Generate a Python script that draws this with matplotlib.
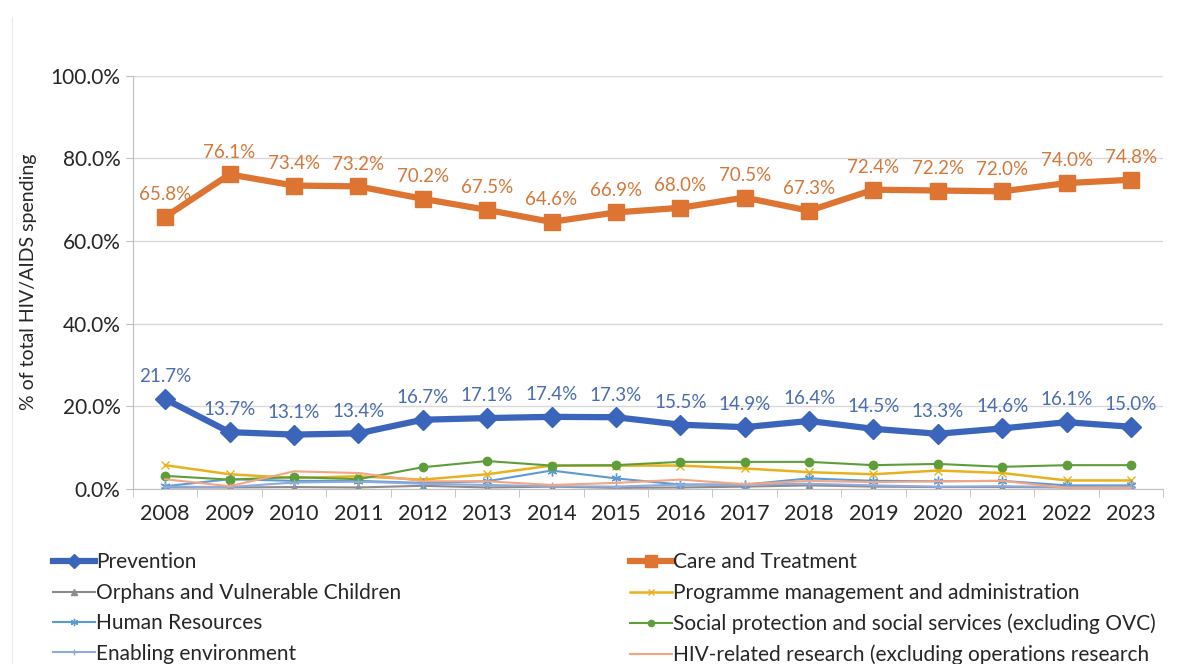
import numpy as np
import matplotlib
matplotlib.use('Agg')
import matplotlib.pyplot as plt
from matplotlib.lines import Line2D
from matplotlib.ticker import FuncFormatter

plt.rcParams['font.family'] = ['Lato', 'DejaVu Sans']

years = [str(y) for y in range(2008, 2024)]

prevention = [21.7, 13.7, 13.1, 13.4, 16.7, 17.1, 17.4, 17.3, 15.5, 14.9, 16.4, 14.5, 13.3, 14.6, 16.1, 15.0]
care = [65.8, 76.1, 73.4, 73.2, 70.2, 67.5, 64.6, 66.9, 68.0, 70.5, 67.3, 72.4, 72.2, 72.0, 74.0, 74.8]
orphans = [0.3, 0.3, 0.4, 0.3, 0.7, 0.3, 0.5, 0.2, 0.3, 0.5, 0.8, 0.5, 0.4, 0.4, 0.3, 0.3]
programme = [5.7, 3.5, 2.6, 3.0, 2.2, 3.5, 5.6, 5.6, 5.6, 4.9, 4.0, 3.5, 4.4, 3.8, 2.0, 2.0]
human_res = [0.6, 2.3, 1.9, 1.9, 1.4, 1.8, 4.4, 2.5, 1.0, 1.0, 2.5, 1.9, 1.8, 1.9, 0.8, 0.8]
social = [3.1, 2.2, 2.8, 2.3, 5.2, 6.7, 5.6, 5.7, 6.5, 6.5, 6.5, 5.7, 6.0, 5.3, 5.7, 5.7]
enabling = [0.5, 0.4, 1.5, 1.7, 1.2, 0.9, 0.6, 0.5, 1.0, 1.0, 1.2, 0.8, 0.5, 0.6, 0.4, 0.5]
research = [2.3, 0.6, 4.2, 3.8, 1.8, 1.8, 0.9, 1.4, 2.2, 1.1, 1.9, 1.6, 1.8, 1.9, 0.2, 0.2]

x = np.arange(len(years))

fig = plt.figure(figsize=(11.87, 6.64), dpi=100)
ax = fig.add_axes([0.112, 0.264, 0.868, 0.622])

# faint frame edge on the left of the picture
fig.add_artist(Line2D([0.010, 0.010], [0.0, 0.975], color='#ececec', lw=1.0))

h_orph, = ax.plot(x, orphans, color='#8c8c8c', lw=1.5, marker='^', ms=5, label='Orphans and Vulnerable Children')
h_prog, = ax.plot(x, programme, color='#e8b21e', lw=1.8, marker='x', ms=6, label='Programme management and administration')
h_hr, = ax.plot(x, human_res, color='#5b9bd5', lw=1.5, marker=(6, 2, 0), ms=7, label='Human Resources')
h_soc, = ax.plot(x, social, color='#5e9e3a', lw=1.5, marker='o', ms=6, label='Social protection and social services (excluding OVC)')
h_enab, = ax.plot(x, enabling, color='#8faadc', lw=1.5, marker='+', ms=6, label='Enabling environment')
h_res, = ax.plot(x, research, color='#f4a582', lw=1.5, label='HIV-related research (excluding operations research')
h_care, = ax.plot(x, care, color='#de7431', lw=4.5, marker='s', ms=11, label='Care and Treatment')
h_prev, = ax.plot(x, prevention, color='#3a65ba', lw=4.5, marker='D', ms=10, label='Prevention')

for xi, v in zip(x, care):
    ax.annotate('%.1f%%' % v, (xi, v), xytext=(0, 16), textcoords='offset points',
                ha='center', va='center', fontsize=13.5, color='#d4783a')
for xi, v in zip(x, prevention):
    ax.annotate('%.1f%%' % v, (xi, v), xytext=(0, 16), textcoords='offset points',
                ha='center', va='center', fontsize=13.5, color='#4a6cb0')

ax.set_xlim(-0.5, len(years) - 0.5)
ax.set_ylim(0, 100)
ax.set_yticks(np.arange(0, 101, 20))
ax.yaxis.set_major_formatter(FuncFormatter(lambda v, p: '%.1f%%' % v))
ax.set_xticks(x)
ax.set_xticklabels(years)
ax.set_xticks(np.arange(-0.5, len(years)), minor=True)
ax.tick_params(axis='x', which='major', length=0, pad=11, labelsize=15.5, labelcolor='#262626')
ax.tick_params(axis='x', which='minor', length=6, color='#bfbfbf')
ax.tick_params(axis='y', length=5, color='#bfbfbf', labelsize=15, labelcolor='#262626', pad=4)
ax.grid(axis='y', color='#d9d9d9', lw=1)
ax.set_axisbelow(True)
for s in ['top', 'right']:
    ax.spines[s].set_visible(False)
ax.spines['left'].set_color('#bfbfbf')
ax.spines['bottom'].set_color('#bfbfbf')
ax.set_ylabel('% of total HIV/AIDS spending', fontsize=14, color='#262626', labelpad=10)

leg_kw = dict(frameon=False, fontsize=15, handlelength=2.0, handletextpad=0.05,
              labelspacing=0.5, borderaxespad=0, borderpad=0, markerscale=0.75)
leg1 = fig.legend(handles=[h_prev, h_orph, h_hr, h_enab], loc='upper left',
                  bbox_to_anchor=(0.045, 0.168), **leg_kw)
leg2 = fig.legend(handles=[h_care, h_prog, h_soc, h_res], loc='upper left',
                  bbox_to_anchor=(0.531, 0.168), **leg_kw)
for leg in (leg1, leg2):
    for t in leg.get_texts():
        t.set_color('#262626')

fig.savefig('out.png', dpi=100)
